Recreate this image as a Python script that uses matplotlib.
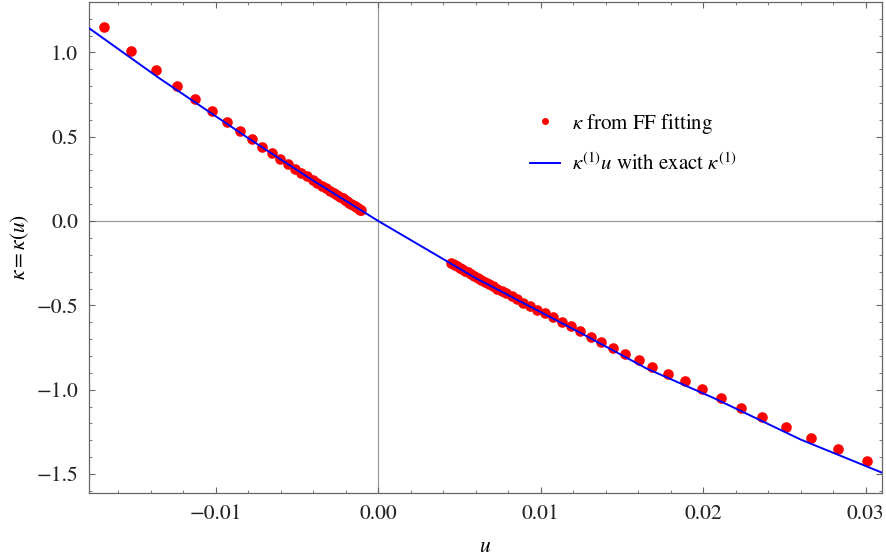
import matplotlib
matplotlib.use("Agg")
import matplotlib.pyplot as plt
from matplotlib.ticker import MultipleLocator, FuncFormatter
from matplotlib.lines import Line2D

plt.rcParams["font.family"] = "STIXGeneral"
plt.rcParams["mathtext.fontset"] = "stix"

# fitted kappa values, left branch (u < 0)
u_left = [-0.01690, -0.01521, -0.01370, -0.01241, -0.01126, -0.01023, -0.00932,
          -0.00852, -0.00780, -0.00714, -0.00657, -0.00603, -0.00554, -0.00512,
          -0.00474, -0.00438, -0.00405, -0.00375, -0.00347, -0.00321, -0.00297,
          -0.00275, -0.00255, -0.00237, -0.00220, -0.00205, -0.00191, -0.00178,
          -0.00166, -0.00155, -0.00145, -0.00136, -0.00127, -0.00119, -0.00111,
          -0.00104]
k_left = [1.149, 1.010, 0.897, 0.801, 0.722, 0.651, 0.585,
          0.534, 0.485, 0.441, 0.403, 0.370, 0.340, 0.310,
          0.286, 0.265, 0.245, 0.227, 0.210, 0.195, 0.180,
          0.167, 0.155, 0.144, 0.134, 0.125, 0.117, 0.109,
          0.101, 0.095, 0.089, 0.083, 0.078, 0.073, 0.068,
          0.064]

# fitted kappa values, right branch (u > 0)
u_right = [0.00446, 0.00458, 0.00471, 0.00485, 0.00500, 0.00516, 0.00533, 0.00551,
           0.00570, 0.00590, 0.00611, 0.00633, 0.00656, 0.00680, 0.00705, 0.00731,
           0.00758, 0.00786, 0.00821, 0.00856, 0.00893, 0.00932, 0.00977, 0.01027,
           0.01076, 0.01130, 0.01183, 0.01241, 0.01306, 0.01372, 0.01444, 0.01520,
           0.01602, 0.01687, 0.01784, 0.01885, 0.01991, 0.02107, 0.02230, 0.02364,
           0.02506, 0.02662, 0.02829, 0.03010]
k_right = [-0.247, -0.253, -0.261, -0.268, -0.276, -0.285, -0.294, -0.304,
           -0.314, -0.325, -0.336, -0.348, -0.360, -0.373, -0.386, -0.400,
           -0.414, -0.427, -0.445, -0.464, -0.484, -0.504, -0.528, -0.548,
           -0.571, -0.598, -0.623, -0.650, -0.685, -0.719, -0.753, -0.787,
           -0.826, -0.864, -0.906, -0.949, -0.997, -1.052, -1.108, -1.163,
           -1.224, -1.287, -1.352, -1.422]

# kappa^(1) u curve
u_line = [-0.0179, -0.0135, -0.0080, -0.0040, 0.0, 0.0060, 0.0125, 0.0165,
          0.0207, 0.0260, 0.0311]
k_line = [1.150, 0.848, 0.491, 0.239, 0.0, -0.339, -0.666, -0.874,
          -1.052, -1.296, -1.496]

frame_gray = "#666666"

fig = plt.figure(figsize=(8.86, 5.57), dpi=100)
ax = fig.add_axes([0.1005, 0.1154, 0.8950, 0.8810])

ax.axhline(0, color="#999999", lw=0.9, zorder=1)
ax.axvline(0, color="#999999", lw=0.9, zorder=1)

ax.plot(u_left + u_right, k_left + k_right, "o", color="red", ms=6.6,
        mec="red", zorder=2)
ax.plot(u_line, k_line, color="blue", lw=1.4, zorder=3)

ax.set_xlim(-0.01781, 0.0310)
ax.set_ylim(-1.611, 1.299)

ax.xaxis.set_major_locator(MultipleLocator(0.01))
ax.xaxis.set_minor_locator(MultipleLocator(0.002))
ax.yaxis.set_major_locator(MultipleLocator(0.5))
ax.yaxis.set_minor_locator(MultipleLocator(0.1))


def fmt(dec):
    def f(v, pos):
        s = f"{v:.{dec}f}"
        if float(s) == 0:
            s = f"{0:.{dec}f}"
        return s.replace("-", "\u2212")
    return FuncFormatter(f)


ax.xaxis.set_major_formatter(fmt(2))
ax.yaxis.set_major_formatter(fmt(1))

ax.tick_params(which="both", direction="in", top=True, right=True,
               color=frame_gray, labelcolor="#222222", labelsize=15.5)
ax.tick_params(which="major", length=4.5, width=0.8, pad=8)
ax.tick_params(which="minor", length=2.5, width=0.6)
for sp in ax.spines.values():
    sp.set_color(frame_gray)
    sp.set_linewidth(0.9)

ax.set_xlabel(r"$u$", fontsize=15.5, labelpad=10)
ax.set_ylabel(r"$\kappa{=}\kappa(u)$", fontsize=15.5, labelpad=4)

handles = [
    Line2D([], [], ls="none", marker="o", color="red", ms=4),
    Line2D([], [], color="blue", lw=1.4),
]
labels = [r"$\kappa$ from FF fitting", r"$\kappa^{(1)}u$ with exact $\kappa^{(1)}$"]
ax.legend(handles, labels, loc="upper left", bbox_to_anchor=(0.533, 0.815),
          frameon=False, fontsize=15, handlelength=1.4, handletextpad=0.6,
          labelspacing=0.85)

fig.savefig("out.png", dpi=100)
